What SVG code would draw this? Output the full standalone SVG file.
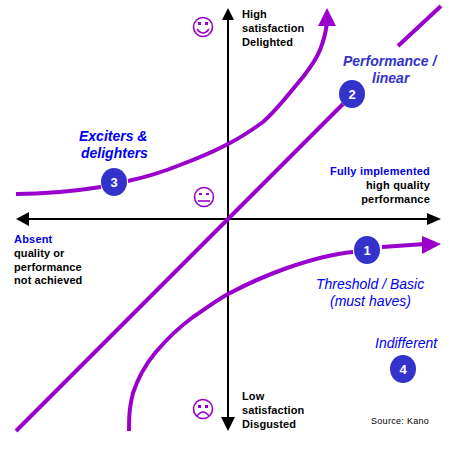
<svg xmlns="http://www.w3.org/2000/svg" width="461" height="456" viewBox="0 0 461 456">
<style>
text{font-family:"Liberation Sans",Arial,sans-serif}
.b{font-size:11px;font-weight:bold;fill:#000}
.bl{font-size:11px;font-weight:bold;fill:#0000e6}
.i{font-size:14px;font-style:italic;fill:#0000f0}
.ib{font-size:14px;font-style:italic;font-weight:bold;fill:#0000f0}
.ip{font-size:14px;font-style:italic;font-weight:bold;fill:#3333cc}
.n{font-size:13px;font-weight:bold;fill:#fff;text-anchor:middle}
.c{fill:none;stroke:#9900cc;stroke-width:4}
.ax{fill:none;stroke:#000;stroke-width:2}
.s{fill:none;stroke:#9900cc;stroke-width:1.6}
.e{fill:#9900cc}
.bg{fill:#3333cc}
</style>
<rect width="461" height="456" fill="#fff"/>
<g id="connectors">
<path class="ax" d="M228 20V420M28 219H430"/>
<path d="M228 8L222 20H234Z"/><path d="M228 431L221 417H235Z"/>
<path d="M16 219L29 212V226Z"/><path d="M441 219L427 213V225Z"/>
<path class="c" d="M16 431L343 104M398 46L441 6"/>
<path class="c" d="M16 194C45 194 75 191 101 187M128 181C146 177 163 172 180 165C196 159 213 152 228 144C240 138 252 130 263 122C278 109 291 91 303 77C310 68 316 60 320 50C324 40 326 32 327 22"/>
<path class="e" d="M327 8L318 26H336Z"/>
<path class="c" d="M129 431C129 412 130 405 133 393C138 378 146 364 155 353C166 340 178 328 193 317C205 309 217 300 228 294C247 284 267 275 287 268C310 260 332 254 353 252M382 247L425 244"/>
<path class="e" d="M441 244L422 236V254Z"/>
</g>
<g id="node-1"><ellipse class="bg" cx="367" cy="250" rx="13" ry="14"/><text class="n" x="367" y="255">1</text></g>
<g id="node-2"><ellipse class="bg" cx="352" cy="94" rx="13" ry="14"/><text class="n" x="352" y="99">2</text></g>
<g id="node-3"><ellipse class="bg" cx="114" cy="182" rx="13" ry="14"/><text class="n" x="114" y="187">3</text></g>
<g id="node-4"><ellipse class="bg" cx="403" cy="369" rx="13" ry="14"/><text class="n" x="403" y="374">4</text></g>
<g id="smiley-happy">
<circle class="s" cx="203" cy="27" r="9.5"/><rect class="e" x="198" y="22" width="3" height="3"/><rect class="e" x="205" y="22" width="3" height="3"/><path class="s" d="M197 29Q203 37 209 29"/>
</g>
<g id="smiley-neutral">
<circle class="s" cx="204" cy="197" r="9.5"/><rect class="e" x="199" y="193" width="3" height="2"/><rect class="e" x="206" y="193" width="3" height="2"/><path class="s" d="M198 201H210"/>
</g>
<g id="smiley-sad">
<circle class="s" cx="203" cy="409" r="9.5"/><rect class="e" x="198" y="405" width="3" height="3"/><rect class="e" x="205" y="405" width="3" height="3"/><path class="s" d="M197 416Q203 408 209 416"/>
</g>
<g id="labels">
<text class="b" x="242" y="18" letter-spacing=".1">High</text>
<text class="b" x="242" y="32" letter-spacing=".1">satisfaction</text>
<text class="b" x="242" y="46" letter-spacing=".1">Delighted</text>
<text class="ip" x="343" y="66">Performance /</text>
<text class="ip" x="372" y="83">linear</text>
<text class="ib" x="79" y="141">Exciters &amp;</text>
<text class="ib" x="81" y="158">delighters</text>
<text class="bl" x="430" y="175" text-anchor="end" letter-spacing=".2">Fully implemented</text>
<text class="b" x="430" y="189" text-anchor="end" letter-spacing=".2">high quality</text>
<text class="b" x="430" y="203" text-anchor="end" letter-spacing=".2">performance</text>
<text class="bl" x="14" y="243" letter-spacing=".2">Absent</text>
<text class="b" x="14" y="257" letter-spacing=".1">quality or</text>
<text class="b" x="14" y="271" letter-spacing=".1">performance</text>
<text class="b" x="14" y="284" letter-spacing=".1">not achieved</text>
<text class="i" x="316" y="289">Threshold / Basic</text>
<text class="i" x="330" y="306">(must haves)</text>
<text class="i" x="375" y="348">Indifferent</text>
<text class="b" x="242" y="400" letter-spacing=".1">Low</text>
<text class="b" x="242" y="414" letter-spacing=".1">satisfaction</text>
<text class="b" x="242" y="428" letter-spacing=".1">Disgusted</text>
<text x="371" y="424" font-size="9px" letter-spacing=".3" fill="#000">Source: Kano</text>
</g>
</svg>
